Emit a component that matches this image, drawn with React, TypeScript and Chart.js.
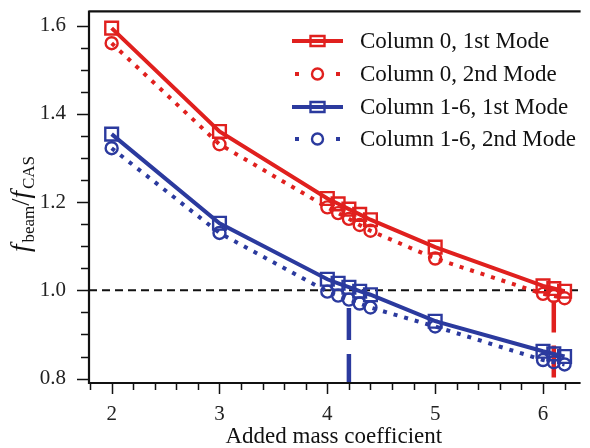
import React, { useEffect, useRef } from "react";
import { Chart, registerables } from "chart.js";

Chart.register(...registerables);

const X_TICKS = [2, 3, 4, 5, 6];
const Y_TICKS = [0.8, 1.0, 1.2, 1.4, 1.6];
const ADDED_MASS = [2, 3, 4, 4.1, 4.2, 4.3, 4.4, 5, 6, 6.1, 6.2];
const COL0_MODE1 = [1.594, 1.36, 1.208, 1.196, 1.184, 1.172, 1.16, 1.098, 1.01, 1.004, 0.998];
const COL0_MODE2 = [1.56, 1.331, 1.188, 1.175, 1.162, 1.148, 1.135, 1.072, 0.992, 0.987, 0.982];
const COL16_MODE1 = [1.354, 1.152, 1.025, 1.016, 1.007, 0.998, 0.99, 0.93, 0.862, 0.856, 0.85];
const COL16_MODE2 = [1.322, 1.13, 0.997, 0.988, 0.979, 0.97, 0.961, 0.918, 0.842, 0.837, 0.832];
const LEGEND_LABELS = [
  "Column 0, 1st Mode",
  "Column 0, 2nd Mode",
  "Column 1-6, 1st Mode",
  "Column 1-6, 2nd Mode",
];
const REFERENCE_LEVEL = 1.0;
const BLUE_MARK = [4.2, 0.96];
const RED_MARK = [6.1, 0.977];
const X_MIN = 1.79;
const X_MAX = 6.33;
const Y_MIN = 0.79;
const Y_MAX = 1.632;

const RED = "#e0201e";
const BLUE = "#2b3a9e";
const FONT = "'Liberation Serif', 'Times New Roman', serif";

const pts = (ys: number[]) => ADDED_MASS.map((x, i) => ({ x, y: ys[i] }));

const decorPlugin = {
  id: "decor",
  afterDraw(chart: any) {
    const ctx = chart.ctx;
    const { left, right, top, bottom } = chart.chartArea;
    const xs = chart.scales.x;
    const ys = chart.scales.y;
    ctx.save();
    // box
    ctx.strokeStyle = "#111";
    ctx.lineWidth = 2.2;
    ctx.beginPath();
    ctx.moveTo(left, top);
    ctx.lineTo(right + 2, top);
    ctx.moveTo(left, top - 1);
    ctx.lineTo(left, bottom);
    ctx.lineTo(right + 2, bottom);
    ctx.stroke();
    // ticks
    ctx.lineWidth = 1.5;
    ctx.beginPath();
    for (let v = 1.8; v <= 6.3001; v += 0.2) {
      const px = Math.round(xs.getPixelForValue(v)) + 0.5;
      const major = Math.abs(v - Math.round(v)) < 1e-6;
      ctx.moveTo(px, bottom);
      ctx.lineTo(px, bottom + (major ? 11 : 7));
    }
    for (let v = 0.8; v <= 1.6001; v += 0.05) {
      const py = Math.round(ys.getPixelForValue(v)) + 0.5;
      const major = Math.abs(v * 5 - Math.round(v * 5)) < 1e-6;
      ctx.moveTo(left, py);
      ctx.lineTo(left - (major ? 12 : 8), py);
    }
    ctx.stroke();

    // legend
    const styles = [
      { color: RED, dotted: false, shape: "rect" },
      { color: RED, dotted: true, shape: "circle" },
      { color: BLUE, dotted: false, shape: "rect" },
      { color: BLUE, dotted: true, shape: "circle" },
    ];
    const lx0 = 292, lx1 = 343, lxm = 317.5, tx = 360;
    const rowY = [41, 74, 107, 139];
    styles.forEach((s, i) => {
      const y = rowY[i];
      ctx.strokeStyle = s.color;
      ctx.fillStyle = s.color;
      ctx.lineWidth = 4;
      if (s.dotted) {
        ctx.fillRect(lx0 + 3, y - 2, 4, 4);
        ctx.fillRect(lx1 - 7, y - 2, 4, 4);
      } else {
        ctx.beginPath();
        ctx.moveTo(lx0, y);
        ctx.lineTo(lx1, y);
        ctx.stroke();
      }
      ctx.lineWidth = 2.4;
      ctx.beginPath();
      if (s.shape === "rect") {
        ctx.rect(lxm - 7, y - 5, 14, 10);
      } else {
        ctx.arc(lxm, y, 5.5, 0, Math.PI * 2);
      }
      ctx.stroke();
      ctx.fillStyle = "#111";
      ctx.font = `23px ${FONT}`;
      ctx.textBaseline = "middle";
      ctx.textAlign = "left";
      ctx.fillText(LEGEND_LABELS[i], tx, y + 1);
    });

    // y axis title f_beam / f_CAS
    ctx.translate(29, 204);
    ctx.rotate(-Math.PI / 2);
    ctx.fillStyle = "#111";
    ctx.textBaseline = "alphabetic";
    ctx.textAlign = "left";
    const mainFont = `italic 27px ${FONT}`;
    const subFont = `17px ${FONT}`;
    const slashFont = `26px ${FONT}`;
    const parts = [
      { t: "f", f: mainFont, dy: 0 },
      { t: "beam", f: subFont, dy: 5 },
      { t: "/", f: slashFont, dy: 0 },
      { t: "f", f: mainFont, dy: 0 },
      { t: "CAS", f: subFont, dy: 5 },
    ];
    let total = 0;
    const widths = parts.map((p) => {
      ctx.font = p.f;
      const w = ctx.measureText(p.t).width + (p.t === "f" ? 2 : 0);
      total += w;
      return w;
    });
    let x = -total / 2;
    parts.forEach((p, i) => {
      ctx.font = p.f;
      ctx.fillText(p.t, x, p.dy);
      x += widths[i];
    });
    ctx.restore();
  },
};

export default function App() {
  const ref = useRef<HTMLCanvasElement | null>(null);
  useEffect(() => {
    if (!ref.current) return;
    const series = (data: number[], color: string, dotted: boolean, style: string) => ({
      data: pts(data),
      borderColor: color,
      backgroundColor: "rgba(0,0,0,0)",
      borderWidth: 4,
      borderDash: dotted ? [4, 7] : [],
      pointStyle: style,
      pointRadius: style === "rect" ? 9 : 6,
      pointBorderWidth: 2.4,
      pointBorderColor: color,
      pointBackgroundColor: "rgba(0,0,0,0)",
      tension: 0,
      fill: false,
    });
    const chart = new Chart(ref.current, {
      type: "line",
      data: {
        datasets: [
          series(COL0_MODE1, RED, false, "rect"),
          series(COL0_MODE2, RED, true, "circle"),
          series(COL16_MODE1, BLUE, false, "rect"),
          series(COL16_MODE2, BLUE, true, "circle"),
          {
            data: [
              { x: X_MIN, y: REFERENCE_LEVEL },
              { x: X_MAX, y: REFERENCE_LEVEL },
            ],
            borderColor: "#111",
            borderWidth: 2,
            borderDash: [8, 5],
            pointRadius: 0,
            fill: false,
          },
          {
            data: [
              { x: BLUE_MARK[0], y: BLUE_MARK[1] },
              { x: BLUE_MARK[0], y: Y_MIN },
            ],
            borderColor: BLUE,
            borderWidth: 4.5,
            borderDash: [32, 14],
            pointRadius: 0,
            fill: false,
          },
          {
            data: [
              { x: RED_MARK[0], y: RED_MARK[1] },
              { x: RED_MARK[0], y: Y_MIN },
            ],
            borderColor: RED,
            borderWidth: 4.5,
            borderDash: [32, 13],
            pointRadius: 0,
            fill: false,
          },
        ],
      },
      options: {
        responsive: false,
        animation: false,
        layout: { padding: { top: 11, left: 0, right: 0, bottom: 0 } },
        plugins: { legend: { display: false }, tooltip: { enabled: false } },
        scales: {
          x: {
            type: "linear",
            min: X_MIN,
            max: X_MAX,
            grid: { display: false, drawTicks: false },
            border: { display: false },
            afterBuildTicks: (s: any) => {
              s.ticks = X_TICKS.map((v) => ({ value: v }));
            },
            afterFit: (s: any) => {
              s.height = 65;
              s.paddingLeft = 0;
              s.paddingRight = 0;
            },
            ticks: {
              autoSkip: false,
              maxRotation: 0,
              padding: 19,
              color: "#222",
              font: { family: FONT, size: 21 },
              callback: (v: any) => String(v),
            },
            title: {
              display: true,
              text: "Added mass coefficient",
              color: "#111",
              font: { family: FONT, size: 23 },
              padding: { top: 0, bottom: -3 },
            },
          },
          y: {
            type: "linear",
            min: Y_MIN,
            max: Y_MAX,
            grid: { display: false, drawTicks: false },
            border: { display: false },
            afterBuildTicks: (s: any) => {
              s.ticks = Y_TICKS.map((v) => ({ value: v }));
            },
            afterFit: (s: any) => {
              s.width = 89;
              s.paddingTop = 0;
              s.paddingBottom = 0;
            },
            ticks: {
              autoSkip: false,
              padding: 23,
              color: "#222",
              font: { family: FONT, size: 21 },
              callback: (v: any) => Number(v).toFixed(1),
            },
          },
        },
      },
      plugins: [decorPlugin],
    } as any);
    return () => chart.destroy();
  }, []);
  return (
    <div style={{ position: "fixed", left: 0, top: 0, width: 590, height: 448, background: "#fff" }}>
      <canvas ref={ref} width={590} height={448} />
    </div>
  );
}
